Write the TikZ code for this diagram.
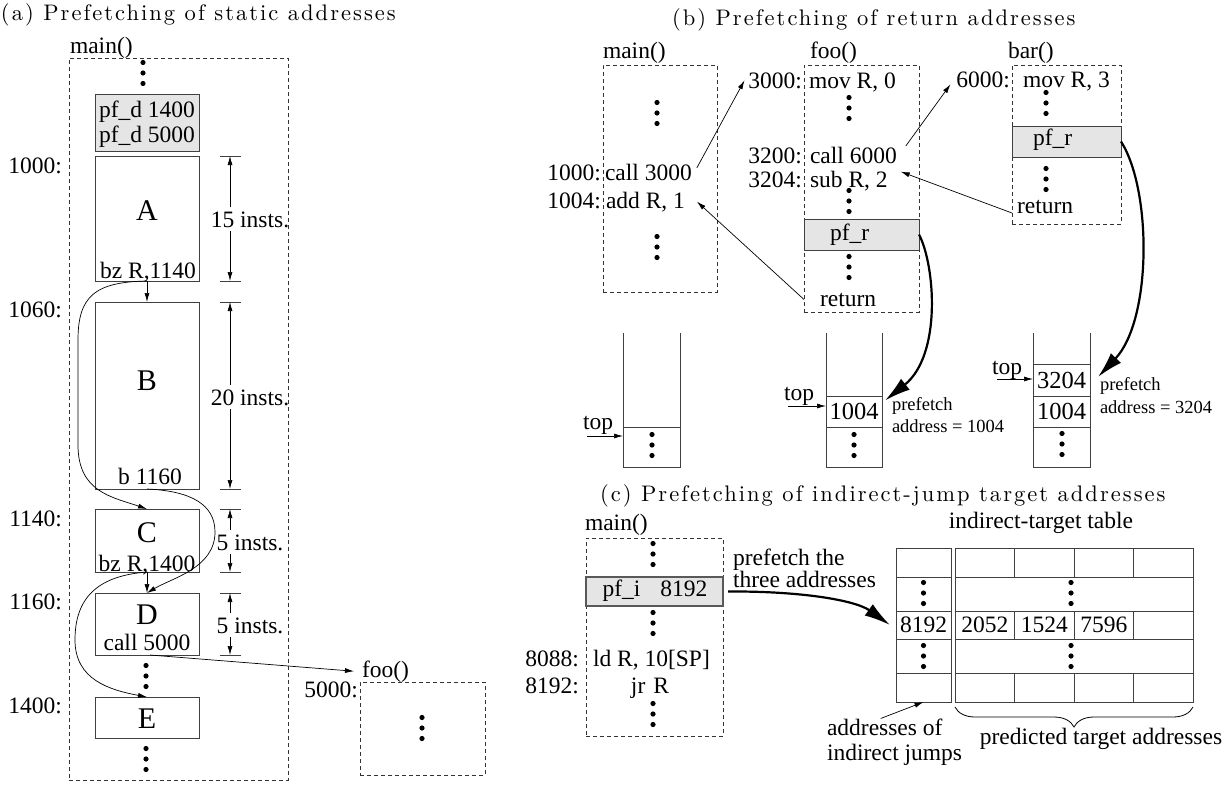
\documentclass[tikz,border=0pt]{standalone}
\usepackage{fontspec}
\usetikzlibrary{arrows.meta,decorations.pathreplacing,calc}
\newfontfamily\tms{Liberation Serif}
\newfontfamily\ttlrm{lmroman10-regular.otf}[LetterSpace=9]
\tikzset{
  txt/.style={font=\tms\fontsize{23.5}{26}\selectfont, inner sep=0pt, outer sep=0pt},
  numtxt/.style={font=\tms\fontsize{24.5}{26}\selectfont, inner sep=0pt, outer sep=0pt},
  bigtxt/.style={font=\tms\fontsize{30}{32}\selectfont, inner sep=0pt, outer sep=0pt},
  smalltxt/.style={font=\tms\fontsize{18.5}{20}\selectfont, inner sep=0pt, outer sep=0pt},
  ttl/.style={font=\ttlrm\fontsize{22.5}{25}\selectfont, inner sep=0pt, outer sep=0pt},
  box/.style={draw=black!75, line width=0.9pt, inner sep=0pt, outer sep=0pt},
  gbox/.style={box, fill=black!10},
  dbox/.style={draw=black!80, line width=0.8pt, dash pattern=on 4pt off 3pt, inner sep=0pt, outer sep=0pt},
  arr/.style={-{Latex[length=9pt,width=5pt]}, line width=0.7pt},
  bigarr/.style={-{Latex[length=26pt,width=14pt]}, line width=2.2pt},
  rule/.style={draw=black!75, line width=0.9pt},
  threedots/.pic={\foreach \k in {-1,0,1} \fill (0,\k*10.5) circle (2.6pt);},
}
% box from its upper left to its lower right corner
\newcommand\mkbox[6][box]{\node[#1, anchor=north west, minimum width={(#5-#3)*1pt}, minimum height={(#6-#4)*1pt}] (#2) at (#3,#4) {};}
\begin{document}
\begin{tikzpicture}[x=1pt,y=-1pt]
\useasboundingbox (0,0) rectangle (1228,798);
\fill[white] (0,0) rectangle (1228,798);

% ---------------- (a) static addresses ----------------
\node[ttl, anchor=base west] (ta) at (1,20) {(a) Prefetching of static addresses};
\node[txt, anchor=base west] (mainAl) at (70,53) {main()};
\mkbox[dbox]{mainA}{69}{58}{288}{780}
\pic at (143,73) {threedots};
\mkbox[gbox]{pfd}{95}{94}{199}{151}
\node[txt, anchor=base] (pfd1) at (147,117) {pf\_d 1400};
\node[txt, anchor=base] (pfd2) at (147,142) {pf\_d 5000};

\mkbox{A}{95}{156}{199}{281}
\node[bigtxt, anchor=base] (Al) at (147,220) {A};
\node[txt, anchor=base] (Ai) at (148,278) {bz R,1140};
\mkbox{B}{95}{302}{199}{489}
\node[bigtxt, anchor=base] (Bl) at (147,390) {B};
\node[txt, anchor=base] (Bi) at (150,484) {b 1160};
\mkbox{C}{95}{509}{199}{572}
\node[bigtxt, anchor=base] (Cl) at (147,542) {C};
\node[txt, anchor=base] (Ci) at (147,571) {bz R,1400};
\mkbox{D}{95}{593}{199}{655}
\node[bigtxt, anchor=base] (Dl) at (147,624) {D};
\node[txt, anchor=base] (Di) at (147,650) {call 5000};
\pic at (146,676) {threedots};
\mkbox{E}{95}{697}{199}{738}
\node[bigtxt, anchor=base] (El) at (147,728) {E};
\pic at (146,759) {threedots};

\node[txt, anchor=base east] (a1000) at (62,173) {1000:};
\node[txt, anchor=base east] (a1060) at (62,317) {1060:};
\node[txt, anchor=base east] (a1140) at (62,526) {1140:};
\node[txt, anchor=base east] (a1160) at (62,609) {1160:};
\node[txt, anchor=base east] (a1400) at (62,713) {1400:};

% instruction counts
\foreach \nm/\ya/\yb/\yt/\lbl in {nA/156/281/227/15 insts., nB/302/489/405/20 insts., nC/509/572/550/5 insts., nD/593/655/633/5 insts.}{
  \coordinate (\nm1) at (230,\ya);
  \coordinate (\nm2) at (230,\yb);
  \node[txt, anchor=base] (\nm) at (250,\yt) {\lbl};
  \draw[rule] ([xshift=-10pt]\nm1) -- ([xshift=11pt]\nm1);
  \draw[rule] ([xshift=-10pt]\nm2) -- ([xshift=11pt]\nm2);
  \draw[arr] ([yshift=4pt]\nm.north -| \nm1) -- (\nm1);
  \draw[arr] ([yshift=-4pt]\nm.south -| \nm2) -- (\nm2);
}

% control flow
\draw[arr] (A.south) -- (B.north);
\draw[arr] (A.south) .. controls (95,282) and (78,296) .. (78,340) -- (78,445) .. controls (78,492) and (112,497) .. (C.north);
\draw[arr] (B.south) .. controls (192,491) and (215,505) .. (215,532) .. controls (215,568) and (172,578) .. (D.north);
\draw[arr] (C.south) -- (D.north);
\draw[arr] (C.south) .. controls (95,576) and (75,600) .. (75,640) .. controls (75,680) and (110,690) .. (E.north);

% callee
\node[txt, anchor=base west] (fooAl) at (362,677) {foo()};
\node[txt, anchor=base east] (a5000) at (358,697) {5000:};
\mkbox[dbox]{fooA}{360}{682}{485}{775}
\pic at (422,728) {threedots};
\draw[arr] ([xshift=3pt]D.south) -- ([xshift=-8pt]fooAl.west);

% ---------------- (b) return addresses ----------------
\node[ttl, anchor=base west] (tb) at (672,25) {(b) Prefetching of return addresses};
\node[txt, anchor=base west] (mainBl) at (603,58) {main()};
\node[txt, anchor=base west] (fooBl) at (810,58) {foo()};
\node[txt, anchor=base west] (barBl) at (1008,58) {bar()};
\mkbox[dbox]{mainB}{603}{65}{717}{292}
\mkbox[dbox]{fooB}{804}{65}{919}{312}
\mkbox[dbox]{barB}{1012}{65}{1121}{224}
\mkbox[gbox]{fooPF}{804}{219}{919}{250}
\mkbox[gbox]{barPF}{1012}{126}{1121}{157}

\node[txt, anchor=base east] (b1000) at (601,180) {1000:};
\node[txt, anchor=base west] (c3000) at (605,180) {call 3000};
\node[txt, anchor=base east] (b1004) at (601,208) {1004:};
\node[txt, anchor=base west] (addR) at (606,208) {add R, 1};
\pic at (657,113) {threedots};
\pic at (657,247) {threedots};

\node[txt, anchor=base east] (a3000) at (802,88) {3000:};
\node[txt, anchor=base west] (movA) at (809,88) {mov R, 0};
\node[txt, anchor=base east] (a3200) at (802,163) {3200:};
\node[txt, anchor=base west] (c6000) at (810,163) {call 6000};
\node[txt, anchor=base east] (a3204) at (802,187) {3204:};
\node[txt, anchor=base west] (subR) at (810,187) {sub R, 2};
\node[txt, anchor=base west] (fooPFt) at (830,240) {pf\_r};
\node[txt, anchor=base west] (fooRet) at (820,306) {return};
\pic at (849,108) {threedots};
\pic at (849,201) {threedots};
\pic at (849,267) {threedots};

\node[txt, anchor=base east] (a6000) at (1010,87) {6000:};
\node[txt, anchor=base west] (movB) at (1023,87) {mov R, 3};
\node[txt, anchor=base west] (barPFt) at (1033,145) {pf\_r};
\node[txt, anchor=base west] (barRet) at (1017,213) {return};
\pic at (1046,103) {threedots};
\pic at (1046,179) {threedots};

\draw[arr] ([xshift=5pt,yshift=4pt]c3000.east) -- ([xshift=-4pt]a3000.west);
\draw[arr] (fooB.west |- fooRet.west) -- ([xshift=12pt]addR.east);
\draw[arr] ([xshift=9pt,yshift=9pt]c6000.east) -- ([xshift=-6pt,yshift=-5pt]a6000.west);
\draw[arr] (barB.west |- barRet.base) -- ([xshift=13pt,yshift=9pt]subR.east);

% return-address stacks
\coordinate (stop) at (0,333);
\mkbox{s1c}{623}{427}{680}{467}
\mkbox{s2c1}{826}{396}{882}{427}
\mkbox{s2c2}{826}{427}{882}{467}
\mkbox{s3c1}{1033}{364}{1090}{396}
\mkbox{s3c2}{1033}{396}{1090}{427}
\mkbox{s3c3}{1033}{427}{1090}{467}
\foreach \c in {s1c,s2c1,s3c1}{
  \draw[rule] (\c.north west) -- (\c.north west |- stop);
  \draw[rule] (\c.north east) -- (\c.north east |- stop);
}
\pic at (652,445) {threedots};
\pic at (854,445) {threedots};
\pic at (1062,444) {threedots};
\node[numtxt] (s2n1) at (s2c1) {1004};
\node[numtxt] (s3n1) at (s3c1) {3204};
\node[numtxt] (s3n2) at (s3c2) {1004};

\node[txt, anchor=base west] (top1) at (583,429) {top};
\node[txt, anchor=base west] (top2) at (784,400) {top};
\node[txt, anchor=base west] (top3) at (992,374) {top};
\coordinate (t1a) at ([xshift=4pt,yshift=-7pt]top1.base west);
\coordinate (t2a) at ([xshift=4pt,yshift=-6pt]top2.base west);
\coordinate (t3a) at ([xshift=5pt,yshift=-5pt]top3.base west);
\draw[arr] (t1a) -- (t1a -| s1c.west);
\draw[arr] (t2a) -- (t2a -| s2c1.west);
\draw[arr] (t3a) -- (t3a -| s3c1.west);

\node[smalltxt, anchor=base west] (pf2a) at (892,410) {prefetch};
\node[smalltxt, anchor=base west] (pf2b) at (892,432) {address = 1004};
\node[smalltxt, anchor=base west] (pf3a) at (1100,390) {prefetch};
\node[smalltxt, anchor=base west] (pf3b) at (1100,413) {address = 3204};

\draw[bigarr] (fooPF.east) .. controls (935,265) and (942,355) .. ([xshift=3pt,yshift=11pt]s2c1.east);
\draw[bigarr] (barPF.east) .. controls (1152,190) and (1152,320) .. ([xshift=8pt,yshift=3pt]s3c1.east);

% ---------------- (c) indirect-jump targets ----------------
\node[ttl, anchor=base west] (tcc) at (600,501) {(c) Prefetching of indirect-jump target addresses};
\node[txt, anchor=base west] (mainCl) at (585,530) {main()};
\mkbox[dbox]{mainC}{586}{538}{723}{736}
\mkbox[gbox, line width=1.3pt, draw=black!65]{pfi}{586}{577}{723}{606}
\node[txt, anchor=base] (pfit) at (655,596) {pf\_i\hspace{20pt}8192};
\pic at (653,554) {threedots};
\pic at (653,623) {threedots};
\pic at (653,714) {threedots};
\node[txt, anchor=base east] (a8088) at (579,666) {8088:};
\node[txt, anchor=base west] (ldR) at (593,666) {ld R, 10[SP]};
\node[txt, anchor=base east] (a8192) at (579,693) {8192:};
\node[txt, anchor=base] (jrR) at (650,693) {jr\hspace{8pt}R};

\node[txt, anchor=base west] (pfa) at (733,565) {prefetch the};
\node[txt, anchor=base west] (pfb) at (733,587) {three addresses};

% indirect-target table
\node[txt, anchor=base] (itt) at (1041,528) {indirect-target table};
\mkbox{tl}{896}{548}{951}{702}
\mkbox{tr}{955}{548}{1193}{702}
\mkbox{c8192}{896}{611}{951}{639}
\foreach \yy in {577,611,639,673}{
  \draw[rule] (tl.west |- 0,\yy) -- (tl.east |- 0,\yy);
  \draw[rule] (tr.west |- 0,\yy) -- (tr.east |- 0,\yy);
}
\foreach \xx in {1014.5,1074,1133.5}{
  \foreach \ya/\yb in {548/577,611/639,673/702}{
    \draw[rule] (\xx,\ya) -- (\xx,\yb);
  }
}
\node[txt] (v8192) at (c8192) {8192};
\node[txt] (v2052) at (984.75,625) {2052};
\node[txt] (v1524) at (1044.25,625) {1524};
\node[txt] (v7596) at (1103.75,625) {7596};
\pic at (923.5,593) {threedots};
\pic at (1071,593) {threedots};
\pic at (923.5,656) {threedots};
\pic at (1071,656) {threedots};

\draw[bigarr] ([xshift=5pt]pfi.east) .. controls (800,591) and (855,600) .. ([xshift=-6pt]c8192.west);

\draw[line width=0.8pt, decorate, decoration={brace, amplitude=20pt}] (tr.south east |- 0,707) -- (tr.south west |- 0,707);
\node[txt, anchor=base] (pta) at (1101,744) {predicted target addresses};
\node[txt, anchor=base west] (addrl) at (827,735) {addresses of};
\node[txt, anchor=base west] (indj) at (827,760) {indirect jumps};
\draw[arr] ([xshift=-4pt]addrl.north) -- (tl.south);
\end{tikzpicture}
\end{document}
